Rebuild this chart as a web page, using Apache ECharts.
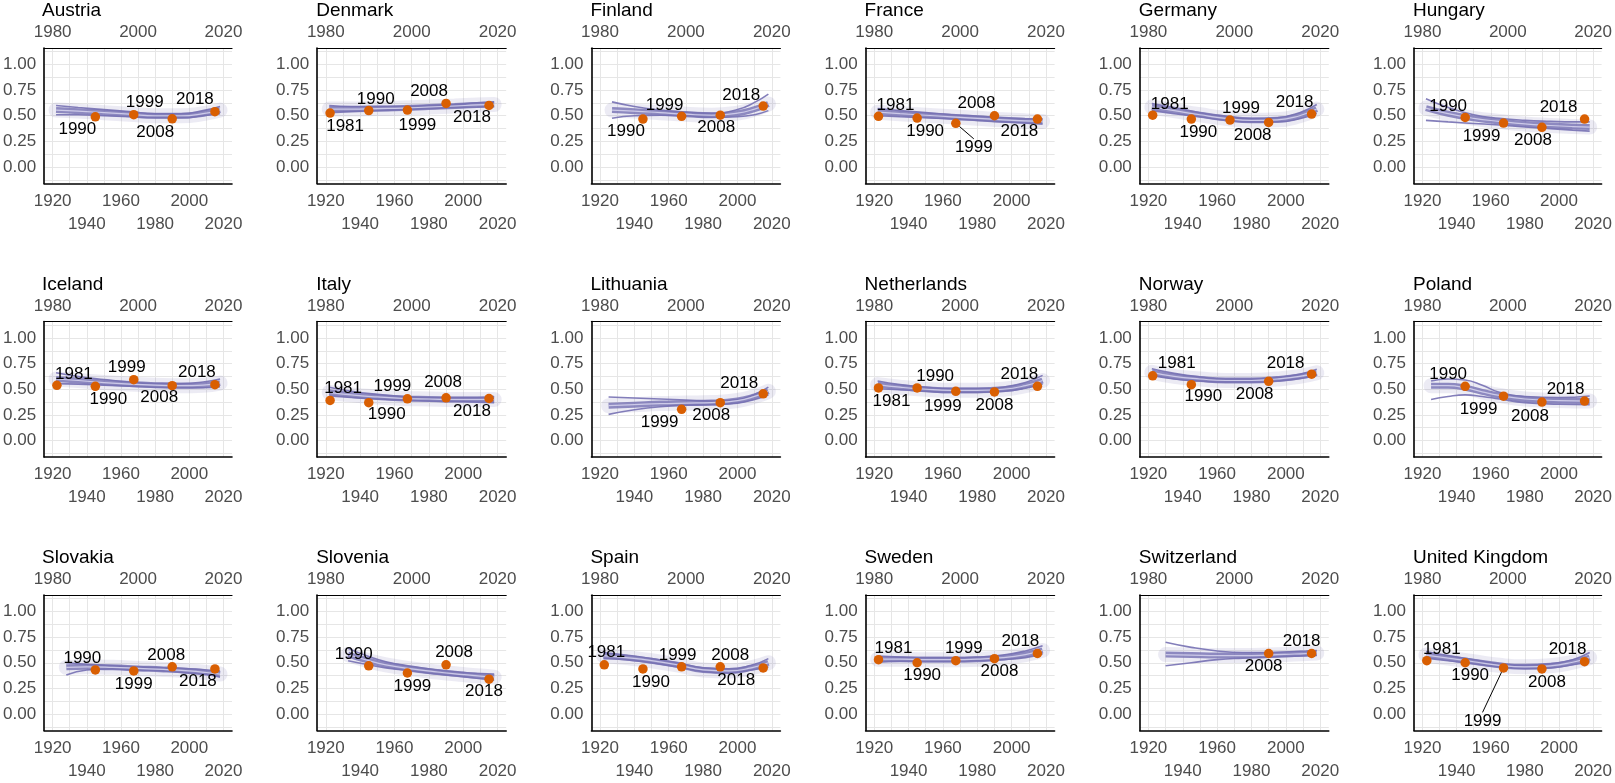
<!DOCTYPE html>
<html><head><meta charset="utf-8">
<script src="https://cdn.jsdelivr.net/npm/echarts@6/dist/echarts.min.js"></script>
<style>html,body{margin:0;padding:0;background:#fff}#c{width:1615px;height:783px}</style>
</head><body><div id="c"></div><script>
// ---------------- DATA ----------------
const countries = ['Austria','Denmark','Finland','France','Germany','Hungary','Iceland','Italy','Lithuania','Netherlands','Norway','Poland','Slovakia','Slovenia','Spain','Sweden','Switzerland','United Kingdom'];

const cohortLabelsRow1 = [1920,1960,2000];
const cohortLabelsRow2 = [1940,1980,2020];
const cohortGrid = [1920,1930,1940,1950,1960,1970,1980,1990,2000,2010,2020];
const surveyLabels = [1980,2000,2020];
const yLabels = [0,0.25,0.5,0.75,1];
const yGrid = [-0.125,0,0.125,0.25,0.375,0.5,0.625,0.75,0.875,1,1.125];

// survey waves (top axis) and observed values
const pointYears = [
  [1990,1999,2008,2018],
  [1981,1990,1999,2008,2018],
  [1990,1999,2008,2018],
  [1981,1990,1999,2008,2018],
  [1981,1990,1999,2008,2018],
  [1990,1999,2008,2018],
  [1981,1990,1999,2008,2018],
  [1981,1990,1999,2008,2018],
  [1999,2008,2018],
  [1981,1990,1999,2008,2018],
  [1981,1990,2008,2018],
  [1990,1999,2008,2018],
  [1990,1999,2008,2018],
  [1990,1999,2008,2018],
  [1981,1990,1999,2008,2018],
  [1981,1990,1999,2008,2018],
  [2008,2018],
  [1981,1990,1999,2008,2018]
];
const pointValues = [
  [0.49,0.51,0.47,0.54],
  [0.526,0.55,0.555,0.62,0.60],
  [0.468,0.494,0.506,0.594],
  [0.494,0.477,0.426,0.50,0.468],
  [0.506,0.468,0.458,0.435,0.516],
  [0.484,0.429,0.387,0.468],
  [0.538,0.529,0.593,0.535,0.545],
  [0.391,0.369,0.407,0.417,0.41],
  [0.304,0.369,0.455],
  [0.513,0.513,0.48,0.474,0.529],
  [0.631,0.545,0.577,0.647],
  [0.529,0.433,0.375,0.385],
  [0.43,0.42,0.46,0.44],
  [0.47,0.40,0.48,0.34],
  [0.48,0.44,0.46,0.46,0.45],
  [0.53,0.50,0.52,0.54,0.59],
  [0.59,0.59],
  [0.52,0.50,0.45,0.44,0.51]
];

// cohort curves (bottom axis): fitted line and interval bounds
const curveYears = [
  [1922,1935,1950,1965,1980,1995,2008,2018],
  [1922,1935,1950,1965,1980,1995,2008,2018],
  [1927,1940,1955,1970,1985,2000,2010,2018],
  [1922,1935,1950,1965,1980,1995,2008,2018],
  [1922,1935,1950,1965,1980,1995,2008,2018],
  [1922,1935,1950,1965,1980,1995,2008,2018],
  [1922,1935,1950,1965,1980,1995,2008,2018],
  [1922,1935,1950,1965,1980,1995,2008,2018],
  [1925,1940,1955,1970,1985,2000,2010,2018],
  [1922,1935,1950,1965,1980,1995,2008,2018],
  [1922,1935,1950,1965,1980,1995,2008,2018],
  [1925,1935,1945,1955,1965,1980,2000,2018],
  [1928,1940,1955,1970,1985,2000,2010,2018],
  [1933,1945,1955,1970,1985,2000,2010,2018],
  [1922,1935,1950,1965,1980,1995,2008,2018],
  [1922,1935,1950,1965,1980,1995,2008,2018],
  [1930,1945,1960,1975,1990,2005,2012,2018],
  [1922,1935,1950,1965,1980,1995,2008,2018]
];
const fitValues = [
  [0.555,0.545,0.53,0.515,0.50,0.50,0.52,0.555],
  [0.565,0.565,0.57,0.575,0.585,0.595,0.605,0.61],
  [0.555,0.545,0.53,0.515,0.505,0.525,0.565,0.615],
  [0.535,0.52,0.505,0.49,0.475,0.46,0.45,0.445],
  [0.585,0.55,0.51,0.475,0.455,0.46,0.50,0.565],
  [0.575,0.52,0.475,0.445,0.42,0.405,0.395,0.39],
  [0.60,0.585,0.565,0.55,0.54,0.535,0.54,0.56],
  [0.47,0.445,0.425,0.41,0.405,0.40,0.40,0.40],
  [0.34,0.35,0.36,0.365,0.37,0.39,0.43,0.48],
  [0.545,0.52,0.50,0.49,0.49,0.50,0.535,0.585],
  [0.665,0.625,0.60,0.585,0.585,0.60,0.625,0.66],
  [0.535,0.535,0.515,0.475,0.44,0.405,0.39,0.385],
  [0.455,0.46,0.455,0.445,0.435,0.42,0.405,0.39],
  [0.58,0.52,0.48,0.44,0.41,0.385,0.37,0.36],
  [0.57,0.55,0.52,0.48,0.43,0.42,0.45,0.50],
  [0.535,0.535,0.53,0.53,0.535,0.55,0.58,0.62],
  [0.58,0.575,0.57,0.57,0.575,0.585,0.59,0.595],
  [0.575,0.545,0.51,0.475,0.46,0.47,0.505,0.55]
];
const upperValues = [
  [0.60,0.58,0.56,0.54,0.52,0.52,0.55,0.59],
  [0.60,0.59,0.59,0.59,0.60,0.61,0.625,0.635],
  [0.635,0.59,0.555,0.535,0.525,0.56,0.63,0.71],
  [0.57,0.55,0.53,0.51,0.495,0.48,0.47,0.47],
  [0.62,0.58,0.53,0.495,0.47,0.48,0.53,0.61],
  [0.665,0.58,0.51,0.475,0.455,0.445,0.44,0.44],
  [0.66,0.625,0.595,0.57,0.555,0.555,0.57,0.60],
  [0.52,0.48,0.45,0.43,0.42,0.42,0.42,0.43],
  [0.425,0.415,0.405,0.395,0.385,0.40,0.45,0.52],
  [0.58,0.545,0.52,0.505,0.505,0.52,0.565,0.635],
  [0.70,0.655,0.62,0.60,0.60,0.615,0.645,0.695],
  [0.58,0.60,0.59,0.54,0.47,0.43,0.42,0.435],
  [0.50,0.485,0.47,0.46,0.45,0.44,0.43,0.42],
  [0.64,0.56,0.51,0.465,0.43,0.405,0.395,0.39],
  [0.60,0.575,0.54,0.50,0.45,0.44,0.475,0.54],
  [0.565,0.555,0.55,0.55,0.555,0.575,0.615,0.665],
  [0.70,0.65,0.615,0.60,0.60,0.61,0.615,0.62],
  [0.61,0.57,0.53,0.49,0.475,0.49,0.53,0.60]
];
const lowerValues = [
  [0.51,0.51,0.50,0.49,0.48,0.48,0.50,0.52],
  [0.53,0.54,0.55,0.56,0.57,0.58,0.585,0.59],
  [0.475,0.50,0.505,0.50,0.485,0.49,0.51,0.55],
  [0.50,0.49,0.48,0.47,0.455,0.44,0.43,0.42],
  [0.55,0.52,0.49,0.455,0.44,0.44,0.47,0.525],
  [0.455,0.44,0.425,0.41,0.39,0.375,0.36,0.35],
  [0.555,0.55,0.54,0.53,0.52,0.515,0.515,0.525],
  [0.435,0.42,0.405,0.395,0.385,0.38,0.375,0.37],
  [0.255,0.30,0.33,0.345,0.35,0.365,0.40,0.445],
  [0.505,0.495,0.48,0.47,0.47,0.48,0.51,0.55],
  [0.635,0.60,0.58,0.57,0.57,0.58,0.605,0.635],
  [0.40,0.43,0.445,0.43,0.405,0.37,0.355,0.35],
  [0.38,0.43,0.44,0.43,0.42,0.40,0.385,0.36],
  [0.52,0.48,0.45,0.42,0.39,0.365,0.345,0.33],
  [0.54,0.53,0.50,0.46,0.415,0.40,0.43,0.46],
  [0.505,0.515,0.515,0.515,0.52,0.53,0.55,0.585],
  [0.47,0.50,0.53,0.545,0.555,0.565,0.568,0.57],
  [0.545,0.52,0.49,0.46,0.445,0.45,0.48,0.51]
];

// ---------------- LAYOUT / STYLE ----------------
// label offsets (px) of each point label relative to its point
const labelOffsets = [
  [[-18,13],[11,-12],[-17,13],[-20,-12]],
  [[15,13],[7,-11],[10,15],[-17,-12],[-17,12]],
  [[-17,12],[-17,-11],[-4,12],[-22,-11]],
  [[17,-11],[8,13],[18,24],[-18,-12],[-18,12]],
  [[17,-11],[7,13],[11,-12],[-16,13],[-17,-12]],
  [[-17,-11],[-22,13],[-9,13],[-26,-12]],
  [[17,-11],[13,13],[-7,-12],[-13,12],[-18,-12]],
  [[13,-12],[18,12],[-15,-12],[-3,-15],[-17,13]],
  [[-22,13],[-9,13],[-24,-11]],
  [[13,13],[18,-12],[-13,15],[0,13],[-18,-12]],
  [[24,-12],[12,12],[-14,13],[-26,-11]],
  [[-17,-12],[-25,13],[-12,14],[-19,-12]],
  [[-13,-12],[0,13],[-6,-12],[-17,12]],
  [[-15,-12],[5,13],[8,-12],[-5,12]],
  [[2,-12],[8,13],[-4,-12],[10,-12],[-27,12]],
  [[15,-11],[5,13],[8,-12],[5,13],[-17,-12]],
  [[-5,13],[-10,-12]],
  [[15,-11],[5,13],[-21,53],[5,13],[-17,-12]]
];
const leaderLines = [[3,2],[17,2]]; // [country, point] labels drawn with a segment

const FONT = "'Liberation Sans', Arial, Helvetica, sans-serif";
const PURPLE = '#7570b3', ORANGE = '#d95f02', TICK = '#4d4d4d', GRID = '#e6e6e6';
const colLeft = 43, colStep = 274.2, plotW = 189;
const rowTop = 48, rowStep = 273.5, plotH = 135.5;
const TICK_FS = 17, TITLE_FS = 19, LABEL_FS = 17;

const grids = [], xAxes = [], yAxes = [], series = [], titles = [];

countries.forEach((name, i) => {
  const r = Math.floor(i / 6), c = i % 6;
  const left = colLeft + c * colStep, top = rowTop + r * rowStep;
  grids.push({ left: left, top: top, width: plotW, height: plotH });
  titles.push({ text: name, left: left - 1, top: top - 48, padding: 0,
    textStyle: { fontSize: TITLE_FS, fontWeight: 'normal', color: '#000', fontFamily: FONT, lineHeight: 22 } });

  const tickLabel = { color: TICK, fontSize: TICK_FS, fontFamily: FONT,
    showMinLabel: true, showMaxLabel: true, hideOverlap: false, formatter: v => '' + v };

  // bottom: birth cohort (first label row, axis line, grid)
  xAxes.push({
    type: 'value', gridIndex: i, position: 'bottom', min: 1915, max: 2025,
    axisLine: { show: true, onZero: false, lineStyle: { color: '#000', width: 1.6 } },
    axisTick: { show: false, customValues: cohortGrid },
    axisLabel: Object.assign({}, tickLabel, { customValues: cohortLabelsRow1, margin: 9 }),
    splitLine: { show: true, lineStyle: { color: GRID, width: 1 } }
  });
  // top: survey year
  xAxes.push({
    type: 'value', gridIndex: i, position: 'top', min: 1978, max: 2022,
    axisLine: { show: true, onZero: false, lineStyle: { color: '#000', width: 1.2 } },
    axisTick: { show: false },
    axisLabel: Object.assign({}, tickLabel, { customValues: surveyLabels, margin: 7 }),
    splitLine: { show: false }
  });
  // bottom: birth cohort (second, staggered label row)
  xAxes.push({
    type: 'value', gridIndex: i, position: 'bottom', min: 1915, max: 2025,
    axisLine: { show: false, onZero: false },
    axisTick: { show: false },
    axisLabel: Object.assign({}, tickLabel, { customValues: cohortLabelsRow2, margin: 32 }),
    splitLine: { show: false }
  });
  yAxes.push({
    type: 'value', gridIndex: i, min: -0.16, max: 1.16,
    axisLine: { show: true, onZero: false, lineStyle: { color: '#000', width: 1.6 } },
    axisTick: { show: false, customValues: yGrid },
    axisLabel: Object.assign({}, tickLabel, { customValues: yLabels, margin: 8,
      formatter: v => v.toFixed(2) }),
    splitLine: { show: true, lineStyle: { color: GRID, width: 1 } }
  });

  const pairs = arr => curveYears[i].map((y, k) => [y, arr[i][k]]);
  const lineBase = { type: 'line', xAxisIndex: 3 * i, yAxisIndex: i, smooth: 0.5,
    symbol: 'none', silent: true, animation: false, z: 2 };
  series.push(Object.assign({}, lineBase, { data: pairs(fitValues),
    lineStyle: { color: PURPLE, width: 15, opacity: 0.14, cap: 'round' } }));
  series.push(Object.assign({}, lineBase, { data: pairs(upperValues),
    lineStyle: { color: PURPLE, width: 1.6, opacity: 0.9 } }));
  series.push(Object.assign({}, lineBase, { data: pairs(lowerValues),
    lineStyle: { color: PURPLE, width: 1.6, opacity: 0.9 } }));
  series.push(Object.assign({}, lineBase, { data: pairs(fitValues),
    lineStyle: { color: PURPLE, width: 6, opacity: 0.8 } }));
  series.push(Object.assign({}, lineBase, { data: pairs(fitValues),
    lineStyle: { color: '#d8d6ee', width: 1.2, opacity: 0.85 } }));

  const offs = labelOffsets[i];
  const pts = pointYears[i].map((y, k) => {
    const item = { value: [y, pointValues[i][k]], name: '' + y };
    if (leaderLines.some(p => p[0] === i && p[1] === k)) {
      item.labelLine = { show: true, lineStyle: { color: '#000', width: 1 } };
    }
    return item;
  });
  series.push({
    type: 'scatter', xAxisIndex: 3 * i + 1, yAxisIndex: i, data: pts, z: 5,
    symbol: 'circle', symbolSize: 9.5, itemStyle: { color: ORANGE, opacity: 1 },
    animation: false, silent: true,
    label: { show: true, position: 'inside', color: '#000', fontSize: LABEL_FS, fontFamily: FONT,
      formatter: p => p.name },
    labelLine: { show: false },
    labelLayout: p => ({ dx: offs[p.dataIndex][0], dy: offs[p.dataIndex][1] })
  });
});

const chart = echarts.init(document.getElementById('c'));
chart.setOption({
  backgroundColor: '#fff',
  animation: false,
  title: titles,
  grid: grids,
  xAxis: xAxes,
  yAxis: yAxes,
  series: series
});
</script></body></html>
